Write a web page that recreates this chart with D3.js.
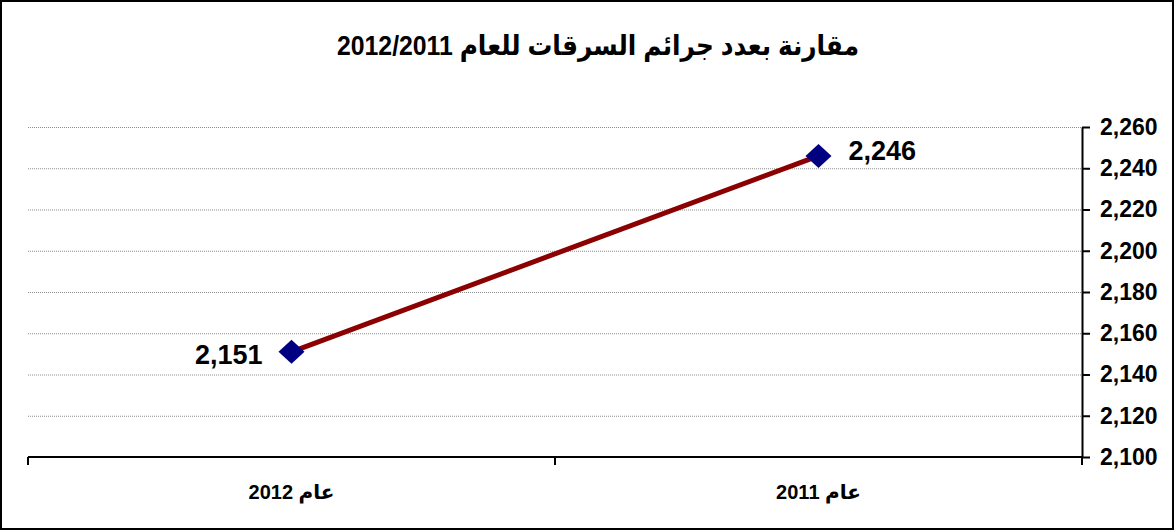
<!DOCTYPE html>
<html>
<head>
<meta charset="utf-8">
<script src="https://cdn.jsdelivr.net/npm/d3@7"></script>
<style>
  body { margin: 0; background: #fff; }
  svg { font-family: "Liberation Sans", Arial, "DejaVu Sans", sans-serif; }
</style>
</head>
<body>
<div id="chart"></div>
<script>
// chart data
var titleText = "مقارنة بعدد جرائم السرقات للعام 2012/2011";
var categories = ["عام 2012", "عام 2011"];
var values = [2151, 2246];
var yTicks = [2100, 2120, 2140, 2160, 2180, 2200, 2220, 2240, 2260];

var W = 1174, H = 530;
var margin = { top: 127, right: 92, bottom: 73, left: 28 },
    width = W - margin.left - margin.right,
    height = H - margin.top - margin.bottom;

var svg = d3.select("#chart")
    .append("svg")
    .attr("width", W)
    .attr("height", H);

// outer frame
svg.append("rect")
    .attr("x", 1).attr("y", 1)
    .attr("width", W - 2).attr("height", H - 2)
    .attr("fill", "#fff")
    .attr("stroke", "#000")
    .attr("stroke-width", 2);

// title
svg.append("text")
    .attr("x", W / 2 + 11)
    .attr("y", 55)
    .attr("direction", "rtl")
    .attr("text-anchor", "middle")
    .attr("font-size", 28)
    .attr("font-weight", "bold")
    .attr("textLength", 522)
    .attr("lengthAdjust", "spacingAndGlyphs")
    .text(titleText);

var g = svg.append("g")
    .attr("transform", "translate(" + margin.left + "," + margin.top + ")");

var x = d3.scaleBand()
    .domain(categories)
    .range([0, width]);

var y = d3.scaleLinear()
    .domain([2100, 2260])
    .range([height, 0]);

// dotted gridlines
g.append("g")
    .selectAll("line")
    .data(yTicks.slice(1))
    .enter()
    .append("line")
    .attr("x1", 0)
    .attr("x2", width)
    .attr("y1", d => y(d) + 0.5)
    .attr("y2", d => y(d) + 0.5)
    .attr("stroke", "#8c8c8c")
    .attr("stroke-width", 1)
    .attr("stroke-dasharray", "1,1");

// y axis on the right
var yAxis = g.append("g")
    .attr("transform", "translate(" + width + ",0)")
    .call(d3.axisRight(y)
        .tickValues(yTicks)
        .tickSize(8)
        .tickSizeOuter(0)
        .tickPadding(10)
        .tickFormat(d3.format(",")));
yAxis.select(".domain").attr("stroke", "#000").attr("stroke-width", 2);
yAxis.selectAll(".tick line").attr("stroke", "#000").attr("stroke-width", 2);
yAxis.selectAll(".tick text")
    .attr("font-size", 23)
    .attr("font-weight", "bold")
    .attr("fill", "#000")
    .attr("font-family", "Liberation Sans, Arial, sans-serif");

// x axis: line plus ticks at band edges
var edges = categories.map(c => x(c)).concat([x.range()[1]]);
g.append("line")
    .attr("x1", 0).attr("x2", width)
    .attr("y1", height).attr("y2", height)
    .attr("stroke", "#000").attr("stroke-width", 2);
g.append("g")
    .selectAll("line")
    .data(edges)
    .enter()
    .append("line")
    .attr("x1", d => d).attr("x2", d => d)
    .attr("y1", height).attr("y2", height + 8)
    .attr("stroke", "#000").attr("stroke-width", 2);

g.append("g")
    .selectAll("text")
    .data(categories)
    .enter()
    .append("text")
    .attr("x", d => x(d) + x.bandwidth() / 2)
    .attr("y", height + 42)
    .attr("direction", "rtl")
    .attr("text-anchor", "middle")
    .attr("font-size", 20)
    .attr("font-weight", "bold")
    .text(d => d);

// line
var pts = categories.map((c, i) => ({ c: c, v: values[i] }));
var line = d3.line()
    .x(d => x(d.c) + x.bandwidth() / 2)
    .y(d => y(d.v));

g.append("path")
    .datum(pts)
    .attr("d", line)
    .attr("fill", "none")
    .attr("stroke", "#8b0000")
    .attr("stroke-width", 5);

// diamond markers
g.append("g")
    .selectAll("path")
    .data(pts)
    .enter()
    .append("path")
    .attr("transform", d => "translate(" + (x(d.c) + x.bandwidth() / 2) + "," + y(d.v) + ")")
    .attr("d", "M0,-12L13,0L0,12L-13,0Z")
    .attr("fill", "#000080");

// value labels
g.append("g")
    .selectAll("text")
    .data(pts)
    .enter()
    .append("text")
    .attr("x", (d, i) => x(d.c) + x.bandwidth() / 2 + (i === 0 ? -29 : 30))
    .attr("y", (d, i) => y(d.v) + (i === 0 ? 12 : 4))
    .attr("text-anchor", (d, i) => i === 0 ? "end" : "start")
    .attr("font-size", 27)
    .attr("font-weight", "bold")
    .text(d => d3.format(",")(d.v));
</script>
</body>
</html>
